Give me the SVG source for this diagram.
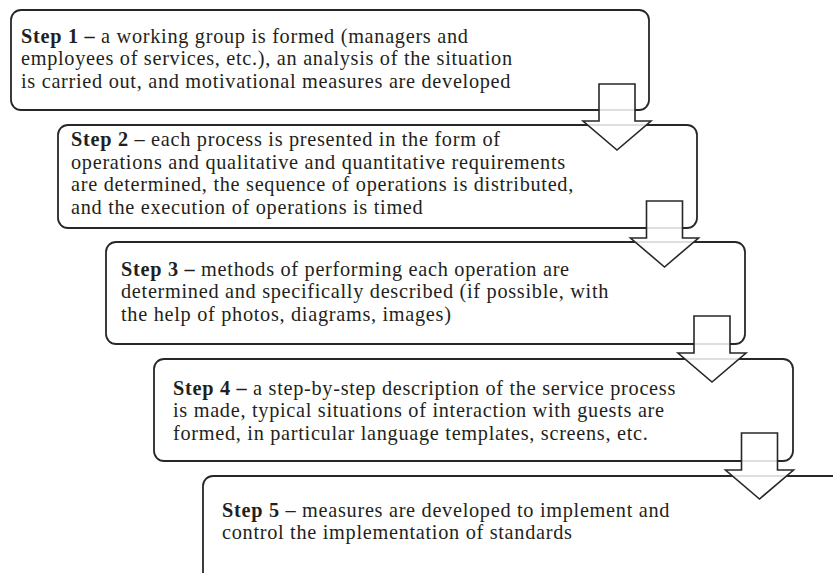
<svg xmlns="http://www.w3.org/2000/svg" width="833" height="573" viewBox="0 0 833 573">
<style>
.box{fill:#fff;stroke:#2a2627;stroke-width:1.8}
.t{font-family:"Liberation Serif","Times New Roman",serif;font-size:20.3px;letter-spacing:0.7px;fill:#231f20}
.b{font-weight:bold}
.arr{fill:#fff;fill-opacity:0.85;stroke:#2a2627;stroke-width:1.6;stroke-linejoin:miter}
</style>
<defs>
<path id="blk" d="M-18,0 h36 v37 h16 l-34,29 l-34,-29 h16 z"/>
</defs>
<rect width="833" height="573" fill="#fff"/>
<g id="step1">
<rect class="box" x="11" y="10" width="638" height="100" rx="10"/>
<text class="t"><tspan x="21" y="42.5"><tspan class="b">Step 1 –</tspan> a working group is formed (managers and</tspan><tspan x="21" y="65">employees of services, etc.), an analysis of the situation</tspan><tspan x="21" y="87.5">is carried out, and motivational measures are developed</tspan></text>
</g>
<g id="step2">
<rect class="box" x="58" y="125" width="639" height="103" rx="10"/>
<text class="t"><tspan x="71" y="146.3"><tspan class="b">Step 2</tspan> – each process is presented in the form of</tspan><tspan x="71" y="168.8">operations and qualitative and quantitative requirements</tspan><tspan x="71" y="191.3">are determined, the sequence of operations is distributed,</tspan><tspan x="71" y="213.8">and the execution of operations is timed</tspan></text>
</g>
<g id="step3">
<rect class="box" x="106" y="242" width="639" height="102" rx="10"/>
<text class="t"><tspan x="121" y="275.5"><tspan class="b">Step 3 –</tspan> methods of performing each operation are</tspan><tspan x="121" y="298">determined and specifically described (if possible, with</tspan><tspan x="121" y="320.5">the help of photos, diagrams, images)</tspan></text>
</g>
<g id="step4">
<rect class="box" x="154" y="359" width="639" height="102" rx="10"/>
<text class="t"><tspan x="173" y="394.5"><tspan class="b">Step 4 –</tspan> a step-by-step description of the service process</tspan><tspan x="173" y="417">is made, typical situations of interaction with guests are</tspan><tspan x="173" y="439.5">formed, in particular language templates, screens, etc.</tspan></text>
</g>
<g id="step5">
<rect class="box" x="203" y="476" width="700" height="200" rx="10"/>
<text class="t"><tspan x="222" y="516.8"><tspan class="b">Step 5</tspan> – measures are developed to implement and</tspan><tspan x="222" y="539.3">control the implementation of standards</tspan></text>
</g>
<g id="connectors">
<use href="#blk" class="arr" transform="translate(617,84)"/>
<use href="#blk" class="arr" transform="translate(664.5,201)"/>
<use href="#blk" class="arr" transform="translate(712,316)"/>
<use href="#blk" class="arr" transform="translate(759.5,433)"/>
</g>
</svg>
